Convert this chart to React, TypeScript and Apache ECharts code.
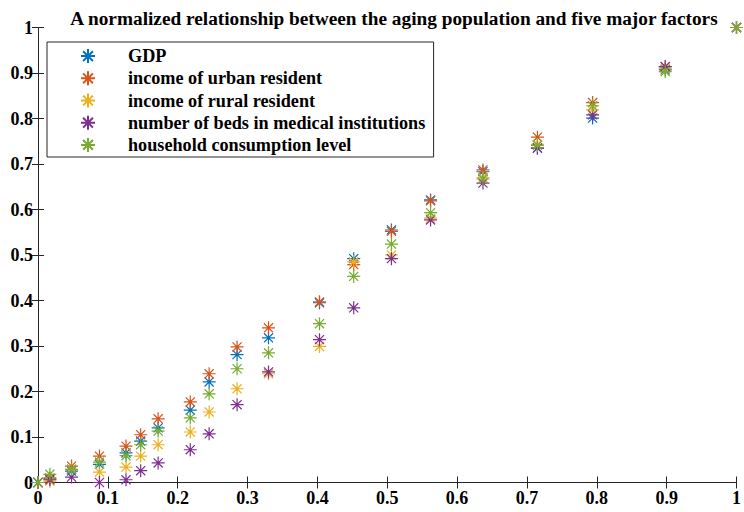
import React, { useEffect, useRef } from "react";
import * as echarts from "echarts";

const xValues = [0, 0.017, 0.048, 0.088, 0.126, 0.147, 0.172, 0.218, 0.245, 0.285, 0.33, 0.403, 0.452, 0.506, 0.562, 0.637, 0.715, 0.794, 0.898, 1];
const gdp = [0, 0.008, 0.025, 0.04, 0.065, 0.091, 0.12, 0.159, 0.221, 0.281, 0.318, 0.395, 0.492, 0.555, 0.621, 0.683, 0.735, 0.801, 0.907, 1];
const urbanIncome = [0, 0.01, 0.036, 0.058, 0.08, 0.105, 0.14, 0.177, 0.239, 0.298, 0.34, 0.397, 0.479, 0.552, 0.619, 0.687, 0.759, 0.835, 0.914, 1];
const ruralIncome = [0, 0.003, 0.029, 0.023, 0.034, 0.058, 0.083, 0.111, 0.155, 0.206, 0.239, 0.299, 0.485, 0.5, 0.581, 0.67, 0.743, 0.819, 0.91, 1];
const beds = [0, 0.006, 0.012, 0, 0.006, 0.026, 0.043, 0.072, 0.107, 0.171, 0.243, 0.314, 0.384, 0.492, 0.577, 0.658, 0.735, 0.808, 0.914, 1];
const consumption = [0, 0.018, 0.029, 0.045, 0.059, 0.083, 0.113, 0.142, 0.195, 0.25, 0.285, 0.349, 0.453, 0.524, 0.593, 0.667, 0.741, 0.828, 0.903, 1];

const seriesNames = [
  "GDP",
  "income of urban resident",
  "income of rural resident",
  "number of beds in medical institutions",
  "household consumption level",
];
const seriesValues = [gdp, urbanIncome, ruralIncome, beds, consumption];
const colors = ["#0072BD", "#D95319", "#EDB120", "#7E2F8E", "#77AC30"];
const tickLabels = ["0", "0.1", "0.2", "0.3", "0.4", "0.5", "0.6", "0.7", "0.8", "0.9", "1"];

const titleText = "A normalized relationship between the aging population and five major factors";
const FONT = "'Liberation Serif', 'Times New Roman', serif";
const AXIS_COLOR = "#262626";
const STAR = "path://M0,-1L0,1M-1,0L1,0M-0.7,-0.7L0.7,0.7M-0.7,0.7L0.7,-0.7";
// legend icon: same star, with an invisible zero-length segment that widens the box to the right
const LEGEND_STAR = "path://M0,-1L0,1M-1,0L1,0M-0.7,-0.7L0.7,0.7M-0.7,0.7L0.7,-0.7M5,0L5,0";

export default function App() {
  const ref = useRef<HTMLDivElement>(null);
  useEffect(() => {
    if (!ref.current) return;
    const chart = echarts.init(ref.current, null, { renderer: "svg" });
    const labelFmt = (v: number) => tickLabels[Math.round(v * 10)] ?? "";
    const axisCommon = {
      min: 0,
      max: 1,
      interval: 0.1,
      axisLine: { show: true, lineStyle: { color: AXIS_COLOR, width: 1 } },
      axisTick: { show: true, inside: true, length: 6, lineStyle: { color: AXIS_COLOR, width: 1 } },
      splitLine: { show: false },
    };
    chart.setOption({
      animation: false,
      backgroundColor: "#ffffff",
      title: {
        text: titleText,
        left: 389,
        textAlign: "center",
        top: 4,
        textStyle: { fontFamily: FONT, fontWeight: "bold", fontSize: 19.3, color: "#000" },
      },
      legend: {
        orient: "vertical",
        left: 47,
        top: 42,
        padding: [5.1, 8, 3.1, 33],
        icon: LEGEND_STAR,
        itemWidth: 42,
        itemHeight: 14,
        itemGap: 4.2,
        borderColor: AXIS_COLOR,
        borderWidth: 1,
        backgroundColor: "#ffffff",
        textStyle: {
          fontFamily: FONT,
          fontWeight: "bold",
          fontSize: 18.2,
          color: "#000",
        },
        data: seriesNames,
      },
      grid: { left: 38, right: 3.5, top: 27.5, bottom: 29.5, containLabel: false },
      xAxis: [
        {
          ...axisCommon,
          type: "value",
          position: "bottom",
          axisLabel: { show: true, formatter: labelFmt, fontFamily: FONT, fontWeight: "bold", fontSize: 18, color: "#000", margin: 6 },
        },
        {
          ...axisCommon,
          type: "value",
          position: "top",
          axisLabel: { show: false },
        },
      ],
      yAxis: [
        {
          ...axisCommon,
          type: "value",
          position: "left",
          axisLabel: { show: true, formatter: labelFmt, fontFamily: FONT, fontWeight: "bold", fontSize: 18, color: "#000", margin: 5 },
        },
        {
          ...axisCommon,
          type: "value",
          position: "right",
          axisLabel: { show: false },
        },
      ],
      series: seriesNames.map((name, i) => ({
        name,
        type: "scatter",
        xAxisIndex: 0,
        yAxisIndex: 0,
        clip: false,
        symbol: STAR,
        symbolSize: 13,
        itemStyle: { color: colors[i], borderColor: colors[i], borderWidth: 1.2, opacity: 1 },
        data: xValues.map((x, j) => [x, seriesValues[i][j]]),
      })),
    });
    return () => chart.dispose();
  }, []);
  return (
    <div
      ref={ref}
      style={{ position: "fixed", left: 0, top: 0, width: 744, height: 512, background: "#fff" }}
    />
  );
}
